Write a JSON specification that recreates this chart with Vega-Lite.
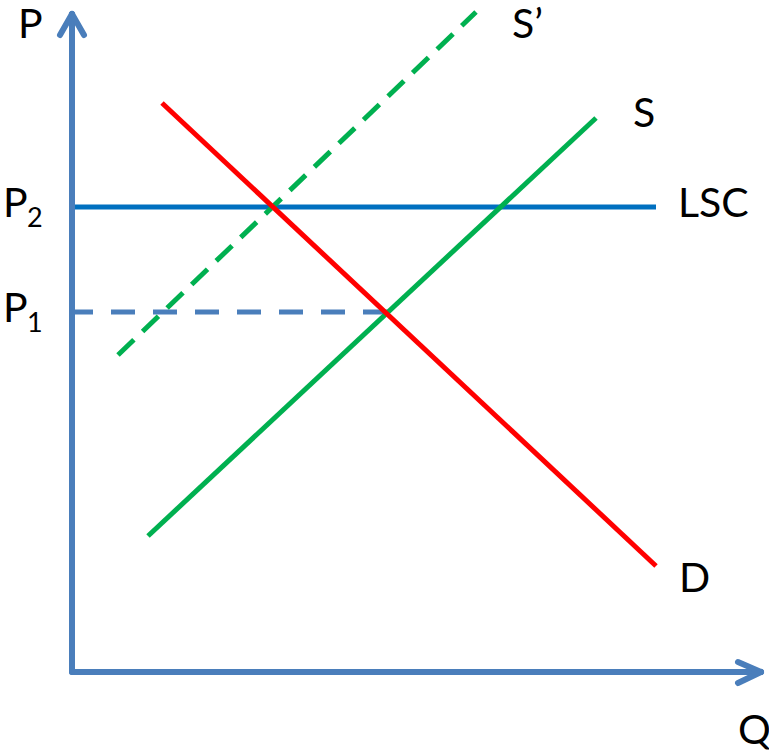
{
  "$schema": "https://vega.github.io/schema/vega-lite/v6.json",
  "width": 769,
  "height": 750,
  "padding": 0,
  "autosize": {"type": "none"},
  "background": "white",
  "view": {"stroke": null},
  "config": {"text": {"font": "Lato", "fontSize": 41, "color": "black"}},
  "datasets": {
    "curves": [
      {"curve": "S'", "i": 0, "q": 46, "p": 317},
      {"curve": "S'", "i": 1, "q": 404, "p": 660},
      {"curve": "S", "i": 0, "q": 76, "p": 136},
      {"curve": "S", "i": 1, "q": 524, "p": 554},
      {"curve": "D", "i": 0, "q": 90, "p": 569},
      {"curve": "D", "i": 1, "q": 584, "p": 106},
      {"curve": "LSC", "i": 0, "q": 0, "p": 465},
      {"curve": "LSC", "i": 1, "q": 584, "p": 465},
      {"curve": "P1", "i": 0, "q": -3, "p": 360},
      {"curve": "P1", "i": 1, "q": 316, "p": 360}
    ],
    "axes": [
      {"seg": "P axis", "i": 0, "q": 0, "p": 0},
      {"seg": "P axis", "i": 1, "q": 0, "p": 658},
      {"seg": "P head L", "i": 0, "q": -12, "p": 637},
      {"seg": "P head L", "i": 1, "q": 0, "p": 658},
      {"seg": "P head R", "i": 0, "q": 12, "p": 637},
      {"seg": "P head R", "i": 1, "q": 0, "p": 658},
      {"seg": "Q axis", "i": 0, "q": 0, "p": 0},
      {"seg": "Q axis", "i": 1, "q": 689, "p": 0},
      {"seg": "Q head U", "i": 0, "q": 666, "p": 10},
      {"seg": "Q head U", "i": 1, "q": 689, "p": 0},
      {"seg": "Q head D", "i": 0, "q": 666, "p": -11},
      {"seg": "Q head D", "i": 1, "q": 689, "p": 0}
    ],
    "labels": [
      {"label": "P", "q": -54, "p": 634},
      {"label": "Q", "q": 666, "p": -72},
      {"label": "P", "q": -69, "p": 455},
      {"label": "P", "q": -69, "p": 350},
      {"label": "S’", "q": 440, "p": 634},
      {"label": "S", "q": 561, "p": 545},
      {"label": "LSC", "q": 606, "p": 455},
      {"label": "D", "q": 607, "p": 80}
    ],
    "subs": [
      {"label": "2", "q": -45, "p": 445},
      {"label": "1", "q": -45, "p": 340}
    ]
  },
  "encoding": {
    "x": {"field": "q", "type": "quantitative", "scale": {"domain": [-72, 697], "nice": false, "zero": false}, "axis": null},
    "y": {"field": "p", "type": "quantitative", "scale": {"domain": [-78, 672], "nice": false, "zero": false}, "axis": null}
  },
  "layer": [
    {
      "data": {"name": "curves"},
      "transform": [{"filter": "datum.curve === 'LSC'"}],
      "mark": {"type": "line", "color": "#0070c0", "strokeWidth": 5},
      "encoding": {"order": {"field": "i"}}
    },
    {
      "data": {"name": "curves"},
      "transform": [{"filter": "datum.curve === 'P1'"}],
      "mark": {"type": "line", "color": "#4a7ebb", "strokeWidth": 5, "strokeDash": [24, 18]},
      "encoding": {"order": {"field": "i"}}
    },
    {
      "data": {"name": "curves"},
      "transform": [{"filter": "datum.curve === \"S'\""}],
      "mark": {"type": "line", "color": "#00b050", "strokeWidth": 5, "strokeDash": [22, 12]},
      "encoding": {"order": {"field": "i"}}
    },
    {
      "data": {"name": "curves"},
      "transform": [{"filter": "datum.curve === 'S'"}],
      "mark": {"type": "line", "color": "#00b050", "strokeWidth": 5},
      "encoding": {"order": {"field": "i"}}
    },
    {
      "data": {"name": "curves"},
      "transform": [{"filter": "datum.curve === 'D'"}],
      "mark": {"type": "line", "color": "#ff0000", "strokeWidth": 5},
      "encoding": {"order": {"field": "i"}}
    },
    {
      "data": {"name": "axes"},
      "mark": {"type": "line", "color": "#4a7ebb", "strokeWidth": 6, "strokeCap": "round"},
      "encoding": {"detail": {"field": "seg"}, "order": {"field": "i"}}
    },
    {
      "data": {"name": "labels"},
      "mark": {"type": "text", "align": "left", "baseline": "alphabetic"},
      "encoding": {"text": {"field": "label"}}
    },
    {
      "data": {"name": "subs"},
      "mark": {"type": "text", "align": "left", "baseline": "alphabetic", "fontSize": 27},
      "encoding": {"text": {"field": "label"}}
    }
  ]
}
